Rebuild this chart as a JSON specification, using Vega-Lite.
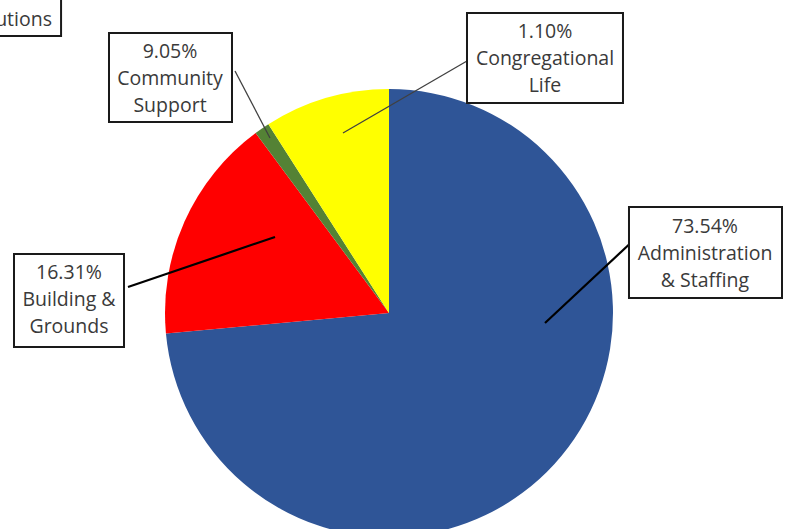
{
  "$schema": "https://vega.github.io/schema/vega-lite/v6.json",
  "width": 790,
  "height": 529,
  "padding": 0,
  "autosize": {"type": "fit", "contains": "padding"},
  "config": {"view": {"stroke": null}},
  "datasets": {
    "slices": [
      {"category": "Administration & Staffing", "share": 73.54, "idx": 1},
      {"category": "Building & Grounds", "share": 16.31, "idx": 2},
      {"category": "Congregational Life", "share": 1.10, "idx": 3},
      {"category": "Community Support", "share": 9.05, "idx": 4}
    ],
    "leaders": [
      {"label": "Administration & Staffing", "x": 1.1027, "y": 0.3348, "x2": 0.6964, "y2": -0.0446},
      {"label": "Building & Grounds", "x": -1.1652, "y": 0.1161, "x2": -0.5089, "y2": 0.3393},
      {"label": "Community Support", "x": -0.6875, "y": 1.0804, "x2": -0.5313, "y2": 0.7813},
      {"label": "Congregational Life", "x": 0.3482, "y": 1.125, "x2": -0.2054, "y2": 0.8036}
    ],
    "boxes": [
      {"label": "Administration & Staffing", "x": 1.0714, "x2": 1.7545, "y": 0.4732, "y2": 0.067, "cx": 1.4107, "cy": 0.3839, "text": "73.54%\nAdministration\n& Staffing"},
      {"label": "Building & Grounds", "x": -1.6741, "x2": -1.183, "y": 0.2634, "y2": -0.1518, "cx": -1.4286, "cy": 0.1786, "text": "16.31%\nBuilding &\nGrounds"},
      {"label": "Community Support", "x": -1.25, "x2": -0.7009, "y": 1.25, "y2": 0.8527, "cx": -0.9777, "cy": 1.1652, "text": "9.05%\nCommunity\nSupport"},
      {"label": "Congregational Life", "x": 0.3482, "x2": 1.0446, "y": 1.3393, "y2": 0.9375, "cx": 0.6964, "cy": 1.2545, "text": "1.10%\nCongregational\nLife"}
    ],
    "title": [
      {"x": -1.76, "x2": -1.464, "y": 1.42, "y2": 1.2366, "tx": -1.5045, "ty": 1.308, "text": "utions"}
    ]
  },
  "layer": [
    {
      "data": {"name": "slices"},
      "mark": {"type": "arc", "outerRadius": 224, "clip": true},
      "encoding": {
        "x": {"datum": 0, "type": "quantitative", "scale": {"domain": [-1.7366, 1.7902], "nice": false, "zero": false}, "axis": null},
        "y": {"datum": 0, "type": "quantitative", "scale": {"domain": [-0.9643, 1.3973], "nice": false, "zero": false}, "axis": null},
        "theta": {"field": "share", "type": "quantitative", "stack": true},
        "order": {"field": "idx", "type": "quantitative"},
        "color": {
          "field": "category",
          "type": "nominal",
          "scale": {
            "domain": ["Administration & Staffing", "Building & Grounds", "Congregational Life", "Community Support"],
            "range": ["#2F5597", "#FF0000", "#548235", "#FFFF00"]
          },
          "legend": null
        }
      }
    },
    {
      "data": {"name": "leaders"},
      "transform": [{"filter": {"field": "label", "oneOf": ["Administration & Staffing", "Building & Grounds"]}}],
      "mark": {"type": "rule", "color": "#000000", "strokeWidth": 2.2, "clip": true},
      "encoding": {
        "x": {"field": "x", "type": "quantitative"},
        "y": {"field": "y", "type": "quantitative"},
        "x2": {"field": "x2"},
        "y2": {"field": "y2"}
      }
    },
    {
      "data": {"name": "leaders"},
      "transform": [{"filter": {"field": "label", "oneOf": ["Community Support", "Congregational Life"]}}],
      "mark": {"type": "rule", "color": "#404040", "strokeWidth": 1.3, "clip": true},
      "encoding": {
        "x": {"field": "x", "type": "quantitative"},
        "y": {"field": "y", "type": "quantitative"},
        "x2": {"field": "x2"},
        "y2": {"field": "y2"}
      }
    },
    {
      "data": {"name": "boxes"},
      "mark": {"type": "rect", "fill": "#FFFFFF", "stroke": "#1A1A1A", "strokeWidth": 2, "clip": true},
      "encoding": {
        "x": {"field": "x", "type": "quantitative"},
        "x2": {"field": "x2"},
        "y": {"field": "y", "type": "quantitative"},
        "y2": {"field": "y2"}
      }
    },
    {
      "data": {"name": "boxes"},
      "mark": {"type": "text", "align": "center", "baseline": "middle", "lineBreak": "\n", "lineHeight": 27, "font": "Open Sans", "fontSize": 19.5, "fill": "#3A3A3A", "clip": true},
      "encoding": {
        "x": {"field": "cx", "type": "quantitative"},
        "y": {"field": "cy", "type": "quantitative"},
        "text": {"field": "text"}
      }
    },
    {
      "data": {"name": "title"},
      "mark": {"type": "rect", "fill": "#FFFFFF", "stroke": "#1A1A1A", "strokeWidth": 2, "clip": true},
      "encoding": {
        "x": {"field": "x", "type": "quantitative"},
        "x2": {"field": "x2"},
        "y": {"field": "y", "type": "quantitative"},
        "y2": {"field": "y2"}
      }
    },
    {
      "data": {"name": "title"},
      "mark": {"type": "text", "align": "right", "baseline": "middle", "font": "Open Sans", "fontSize": 19.5, "fill": "#3A3A3A", "clip": true},
      "encoding": {
        "x": {"field": "tx", "type": "quantitative"},
        "y": {"field": "ty", "type": "quantitative"},
        "text": {"field": "text"}
      }
    }
  ]
}
